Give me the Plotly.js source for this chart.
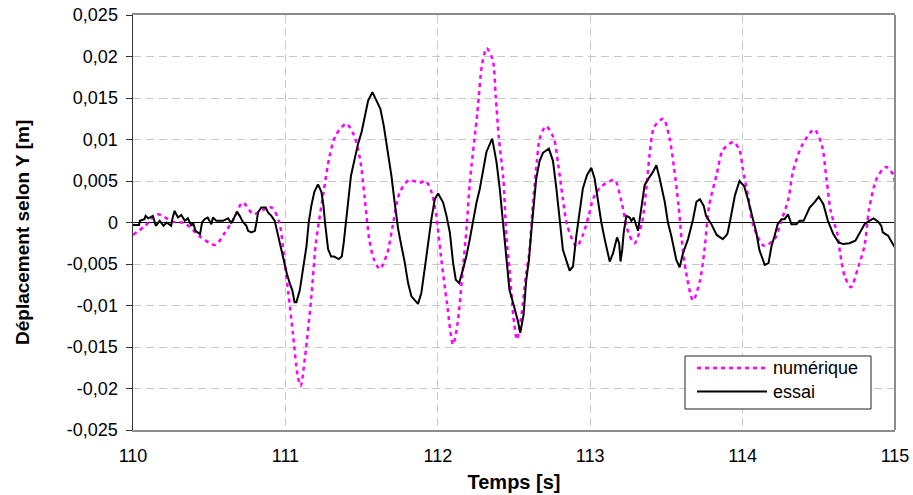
<!DOCTYPE html>
<html><head><meta charset="utf-8">
<script src="https://cdn.plot.ly/plotly-3.0.1.min.js"></script>
<style>html,body{margin:0;padding:0;background:#fff;}#chart{width:913px;height:495px;}</style>
</head><body><div id="chart"></div>
<script>
// numérique (simulation)
const numT = [110.00,110.08,110.16,110.26,110.34,110.44,110.54,110.60,110.66,110.72,110.79,110.85,110.91,110.96,110.99,111.02,111.05,111.08,111.10,111.13,111.17,111.20,111.25,111.29,111.33,111.40,111.45,111.49,111.52,111.55,111.58,111.62,111.67,111.70,111.75,111.81,111.88,111.92,111.96,111.99,112.02,112.06,112.10,112.13,112.16,112.19,112.21,112.26,112.29,112.32,112.36,112.38,112.40,112.43,112.45,112.47,112.50,112.52,112.55,112.58,112.60,112.62,112.65,112.67,112.71,112.76,112.79,112.82,112.85,112.91,112.95,112.99,113.02,113.07,113.16,113.20,113.25,113.29,113.34,113.37,113.39,113.42,113.48,113.52,113.55,113.58,113.60,113.63,113.675,113.72,113.75,113.78,113.83,113.87,113.94,113.98,114.00,114.04,114.07,114.14,114.21,114.25,114.30,114.33,114.39,114.47,114.52,114.55,114.58,114.62,114.64,114.67,114.71,114.76,114.80,114.83,114.88,114.94,114.99,115.00];
const numY = [-0.0015,-0.0004,0.0010,0.0001,-0.0001,-0.0017,-0.0027,-0.0013,0.0004,0.0024,0.0010,0.0015,0.0018,0.0000,-0.0040,-0.0086,-0.0135,-0.0184,-0.0197,-0.0160,-0.0090,-0.0025,0.0036,0.0080,0.0105,0.0119,0.0105,0.0076,0.0030,-0.0020,-0.0044,-0.0056,-0.0036,-0.0008,0.0036,0.0051,0.0048,0.0050,0.0036,0.0008,-0.0040,-0.0097,-0.0147,-0.0121,-0.0065,-0.0004,0.0048,0.0133,0.0190,0.0210,0.0196,0.0152,0.0103,0.0052,-0.0016,-0.0056,-0.0120,-0.0141,-0.0110,-0.0061,-0.0037,0.0012,0.0074,0.0102,0.0116,0.0102,0.0070,0.0029,-0.0004,-0.0029,-0.0016,0.0008,0.0029,0.0043,0.0051,0.0029,-0.0012,-0.0025,0.0000,0.0045,0.0082,0.0115,0.0125,0.0102,0.0066,0.0020,-0.0020,-0.0061,-0.0094,-0.0070,-0.0033,0.0020,0.0058,0.0087,0.0097,0.0087,0.0066,0.0028,-0.0004,-0.0028,-0.0020,0.0000,0.0028,0.0061,0.0093,0.0112,0.0093,0.0053,0.0012,-0.0012,-0.0037,-0.0065,-0.0078,-0.0053,-0.0028,0.0016,0.0053,0.0067,0.0057,0.0040];

// essai (measurement)
const essT = [110.00,110.04,110.045,110.075,110.083,110.10,110.13,110.15,110.175,110.20,110.22,110.25,110.258,110.273,110.295,110.317,110.34,110.36,110.383,110.394,110.41,110.44,110.453,110.47,110.49,110.514,110.525,110.547,110.59,110.624,110.645,110.667,110.683,110.70,110.72,110.744,110.755,110.777,110.80,110.814,110.82,110.842,110.871,110.886,110.908,110.93,110.945,110.963,110.98,111.01,111.03,111.046,111.06,111.072,111.094,111.116,111.138,111.153,111.17,111.19,111.214,111.236,111.25,111.26,111.27,111.28,111.30,111.32,111.35,111.37,111.383,111.396,111.41,111.43,111.455,111.477,111.50,111.52,111.543,111.571,111.597,111.623,111.645,111.674,111.696,111.717,111.74,111.761,111.783,111.805,111.827,111.87,111.892,111.914,111.936,111.958,111.98,112.002,112.035,112.057,112.079,112.10,112.118,112.14,112.166,112.188,112.21,112.232,112.254,112.275,112.297,112.319,112.357,112.385,112.407,112.43,112.45,112.47,112.50,112.526,112.541,112.563,112.58,112.598,112.613,112.629,112.646,112.668,112.69,112.729,112.756,112.778,112.80,112.821,112.865,112.887,112.909,112.93,112.952,112.979,113.007,113.029,113.051,113.073,113.095,113.128,113.15,113.176,113.19,113.199,113.21,113.22,113.237,113.259,113.27,113.285,113.314,113.335,113.357,113.39,113.412,113.434,113.456,113.489,113.51,113.532,113.565,113.587,113.609,113.642,113.675,113.697,113.72,113.745,113.76,113.795,113.83,113.87,113.90,113.92,113.95,113.98,114.01,114.035,114.07,114.09,114.11,114.145,114.17,114.19,114.21,114.23,114.255,114.276,114.298,114.32,114.353,114.375,114.40,114.42,114.44,114.47,114.50,114.53,114.56,114.595,114.63,114.66,114.70,114.74,114.77,114.80,114.83,114.86,114.89,114.91,114.92,114.955,114.98,115.00];
const essY = [-0.0003,-0.0003,0.0002,0.0004,0.0008,0.0005,0.0008,-0.0004,0.0002,-0.0004,0.0000,-0.0004,0.0004,0.0014,0.0006,0.0009,0.0002,0.0005,-0.0004,0.0000,-0.0010,-0.0014,0.0000,0.0004,0.0006,-0.0002,0.0006,0.0002,0.0002,0.0005,-0.0001,0.0008,0.0013,0.0008,0.0001,-0.0004,-0.0010,-0.0012,-0.0010,0.0004,0.0012,0.0018,0.0018,0.0012,0.0008,0.0002,-0.0010,-0.0025,-0.0041,-0.0062,-0.0074,-0.0082,-0.0096,-0.0096,-0.0082,-0.0057,-0.0029,0.0000,0.0020,0.0037,0.0046,0.0037,0.0020,0.0000,-0.0016,-0.0032,-0.0041,-0.0041,-0.0044,-0.0041,-0.0024,0.0000,0.0024,0.0056,0.0077,0.0095,0.0109,0.0129,0.0147,0.0157,0.0147,0.0137,0.0117,0.0085,0.0056,0.0024,-0.0008,-0.0028,-0.0048,-0.0073,-0.0089,-0.0098,-0.0085,-0.0056,-0.0024,0.0004,0.0028,0.0035,0.0024,0.0008,-0.0012,-0.0048,-0.0069,-0.0073,-0.0056,-0.0040,-0.0020,0.0004,0.0024,0.0040,0.0064,0.0085,0.0101,0.0073,0.0040,-0.0004,-0.0040,-0.0081,-0.0101,-0.0119,-0.0133,-0.0111,-0.0070,-0.0045,-0.0012,0.0020,0.0053,0.0074,0.0084,0.0089,0.0074,0.0041,0.0000,-0.0033,-0.0058,-0.0053,-0.0016,0.0012,0.0041,0.0057,0.0066,0.0053,0.0025,0.0000,-0.0020,-0.0047,-0.0037,-0.0018,-0.0025,-0.0047,-0.0033,-0.0012,0.0008,0.0006,0.0002,0.0006,-0.0010,0.0016,0.0045,0.0055,0.0061,0.0069,0.0053,0.0025,0.0000,-0.0016,-0.0045,-0.0054,-0.0037,-0.0020,0.0004,0.0025,0.0028,0.0020,0.0008,-0.0002,-0.0015,-0.0020,-0.0014,0.0004,0.0033,0.0050,0.0044,0.0028,0.0004,-0.0012,-0.0033,-0.0051,-0.0049,-0.0028,-0.0016,-0.0002,0.0004,0.0004,0.0010,-0.0002,-0.0002,0.0002,0.0002,0.0010,0.0018,0.0024,0.0031,0.0022,0.0002,-0.0014,-0.0024,-0.0026,-0.0025,-0.0022,-0.0012,-0.0002,0.0002,0.0005,0.0001,-0.0004,-0.0012,-0.0016,-0.0024,-0.0030];

const seriesNames = ['numérique', 'essai'];
const xTickVals = [110, 111, 112, 113, 114, 115];
const xTickText = ['110', '111', '112', '113', '114', '115'];
const yTickVals = [-0.025, -0.02, -0.015, -0.01, -0.005, 0, 0.005, 0.01, 0.015, 0.02, 0.025];
const yTickText = ['-0,025', '-0,02', '-0,015', '-0,01', '-0,005', '0', '0,005', '0,01', '0,015', '0,02', '0,025'];
const xTitle = 'Temps [s]';
const yTitle = 'Déplacement selon Y [m]';

const FONT = 'Liberation Sans, Arial, sans-serif';
const MAG = '#ff00ff';

const traces = [
  {x: numT, y: numY, name: seriesNames[0], mode: 'lines', type: 'scatter',
   line: {color: MAG, width: 2.5, dash: '4px,4px', shape: 'spline', smoothing: 0.8}, showlegend: false},
  {x: essT, y: essY, name: seriesNames[1], mode: 'lines', type: 'scatter',
   line: {color: '#000000', width: 2}, showlegend: false}
];

// plot-area pixel frame, used to place the legend box and the y title
const L = 133, R = 895, T = 15, B = 430;
const px = v => (v - L) / (R - L);
const py = v => (B - v) / (B - T);

const layout = {
  width: 913, height: 495,
  margin: {l: L, r: 913 - R, t: T, b: 495 - B},
  paper_bgcolor: '#ffffff', plot_bgcolor: '#ffffff',
  font: {family: FONT, size: 18, color: '#000'},
  xaxis: {
    range: [110, 115], tickvals: xTickVals, ticktext: xTickText,
    showgrid: true, gridcolor: '#c8c8c8', griddash: '8px,5px', gridwidth: 1,
    showline: true, linecolor: '#8c8c8c', linewidth: 2, mirror: true,
    ticks: '', zeroline: false, ticklabelstandoff: 8,
    tickfont: {family: FONT, size: 18, color: '#000'},
    title: {text: xTitle, font: {family: FONT, size: 20, weight: 'bold', color: '#000'}, standoff: 10}
  },
  yaxis: {
    range: [-0.025, 0.025], tickvals: yTickVals, ticktext: yTickText,
    showgrid: true, gridcolor: '#c8c8c8', griddash: '8px,5px', gridwidth: 1,
    showline: true, linecolor: '#333', linewidth: 1.5,
    ticks: 'outside', ticklen: 6, tickcolor: '#333', tickwidth: 1,
    zeroline: true, zerolinecolor: '#000', zerolinewidth: 1.3, ticklabelstandoff: 4,
    tickfont: {family: FONT, size: 18, color: '#000'}
  },
  shapes: [
    {type: 'line', xref: 'paper', yref: 'paper', x0: 1, x1: 1, y0: 0, y1: 1, line: {color: '#8c8c8c', width: 2}},
    {type: 'rect', xref: 'paper', yref: 'paper', x0: px(685), x1: px(871), y0: py(409), y1: py(356),
     fillcolor: '#ffffff', line: {color: '#222', width: 1}},
    {type: 'line', xref: 'paper', yref: 'paper', x0: px(697), x1: px(767), y0: py(368), y1: py(368),
     line: {color: MAG, width: 2.5, dash: '4px,4px'}},
    {type: 'line', xref: 'paper', yref: 'paper', x0: px(697), x1: px(767), y0: py(391.5), y1: py(391.5),
     line: {color: '#000', width: 2}}
  ],
  annotations: [
    {xref: 'paper', yref: 'paper', x: px(771), y: py(368), xanchor: 'left', yanchor: 'middle',
     text: seriesNames[0], showarrow: false, font: {family: FONT, size: 18, color: '#000'}},
    {xref: 'paper', yref: 'paper', x: px(771), y: py(391.5), xanchor: 'left', yanchor: 'middle',
     text: seriesNames[1], showarrow: false, font: {family: FONT, size: 18, color: '#000'}},
    {xref: 'paper', yref: 'paper', x: px(22), y: py(233), xanchor: 'center', yanchor: 'middle',
     textangle: -90, text: yTitle, showarrow: false,
     font: {family: FONT, size: 19, weight: 'bold', color: '#000'}}
  ]
};

Plotly.newPlot('chart', traces, layout, {displayModeBar: false, staticPlot: true});
</script></body></html>
